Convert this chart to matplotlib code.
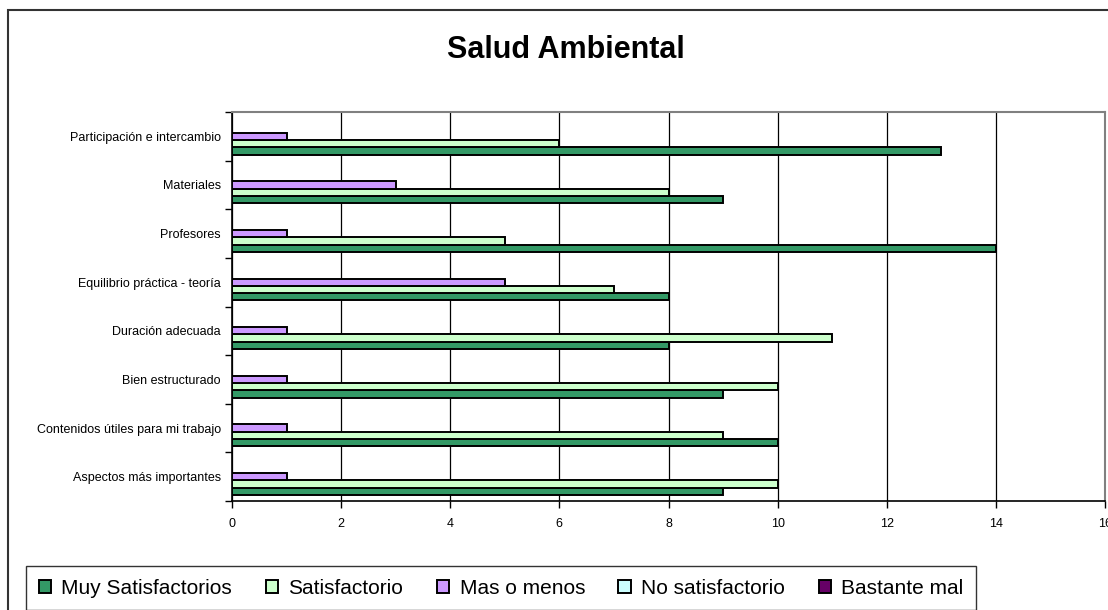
#!/usr/bin/env python3
"""Salud Ambiental - valoracion del curso (barras horizontales agrupadas)"""

import matplotlib.pyplot as plt
import numpy as np
from matplotlib.patches import Rectangle

plt.rcParams["font.family"] = ["Liberation Sans", "DejaVu Sans"]

# Datos (de abajo hacia arriba)
categories = [
    "Aspectos más importantes",
    "Contenidos útiles para mi trabajo",
    "Bien estructurado",
    "Duración adecuada",
    "Equilibrio práctica - teoría",
    "Profesores",
    "Materiales",
    "Participación e intercambio",
]
series_names = ["Muy Satisfactorios", "Satisfactorio", "Mas o menos", "No satisfactorio", "Bastante mal"]
muy_satisfactorios = [9, 10, 9, 8, 8, 14, 9, 13]
satisfactorio = [10, 9, 10, 11, 7, 5, 8, 6]
mas_o_menos = [1, 1, 1, 1, 5, 1, 3, 1]
no_satisfactorio = [0, 0, 0, 0, 0, 0, 0, 0]
bastante_mal = [0, 0, 0, 0, 0, 0, 0, 0]
x_ticks = [0, 2, 4, 6, 8, 10, 12, 14, 16]

colors = ["#339966", "#CCFFCC", "#CC99FF", "#CCFFFF", "#660066"]

W, H = 1108, 610
fig = plt.figure(figsize=(W / 100, H / 100), dpi=100)
ax = fig.add_axes([232 / W, 1 - 501 / H, (1105 - 232) / W, (501 - 112) / H])

y = np.arange(len(categories))
h = 0.15
all_series = [muy_satisfactorios, satisfactorio, mas_o_menos, no_satisfactorio, bastante_mal]
for k, (vals, name, col) in enumerate(zip(all_series, series_names, colors)):
    ax.barh(y + (k - 2) * h, vals, h, label=name, color=col,
            edgecolor="black", linewidth=1.4, zorder=3)

ax.set_xlim(0, 16)
ax.set_ylim(-0.5, len(categories) - 0.5)
ax.set_xticks(x_ticks)
ax.set_xticklabels([str(t) for t in x_ticks], fontsize=9)
ax.set_yticks(y)
ax.set_yticklabels(categories, fontsize=9)
ax.set_yticks(np.arange(len(categories) + 1) - 0.5, minor=True)
ax.tick_params(axis="y", which="major", length=0, pad=8)
ax.tick_params(axis="y", which="minor", length=5, width=1, direction="out")
ax.tick_params(axis="x", length=5, width=1, direction="out", pad=7)

ax.grid(True, axis="x", color="black", linewidth=0.9, zorder=0)
ax.set_axisbelow(True)
for side in ["top", "right"]:
    ax.spines[side].set_color("#808080")
    ax.spines[side].set_linewidth(1.5)
for side in ["left", "bottom"]:
    ax.spines[side].set_color("black")
    ax.spines[side].set_linewidth(1.2)

# Titulo
fig.text(566 / W, 1 - 50 / H, "Salud Ambiental", ha="center", va="center",
         fontsize=22, fontweight="bold")

# Borde del grafico
fig.patches.append(Rectangle((8 / W, -0.1), 1.2, 1.1 - 10 / H, transform=fig.transFigure,
                             fill=False, edgecolor="#333333", linewidth=1.5))

# Leyenda
leg = fig.legend(loc="upper left", bbox_to_anchor=(26 / W, 1 - 566 / H), ncol=5,
                 fontsize=15, frameon=True, fancybox=False, borderpad=0.6,
                 handlelength=0.6, handleheight=0.6, handletextpad=0.5,
                 columnspacing=1.6, borderaxespad=0)
leg.get_frame().set_edgecolor("black")
leg.get_frame().set_linewidth(1.0)

plt.savefig("out.png", dpi=100, facecolor="white")
